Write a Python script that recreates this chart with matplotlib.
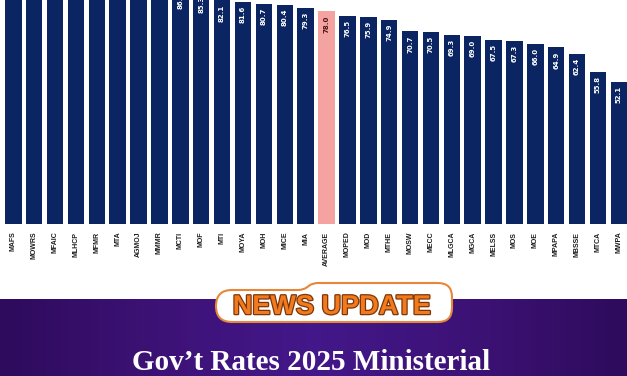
import matplotlib
matplotlib.use("Agg")
import matplotlib.pyplot as plt
import matplotlib.patheffects as pe
from matplotlib.path import Path
from matplotlib.patches import PathPatch
from matplotlib import transforms
from matplotlib.colors import LinearSegmentedColormap
import numpy as np

# ministries, sorted by score (the first few are cut off at the top of the picture)
ministries = [
    "MAFS", "MOWRS", "MFAIC", "MLHCP", "MFMR", "MTA", "AGMOJ", "MMMR",
    "MCTI", "MOF", "MTI", "MOYA", "MOH", "MICE", "MIA", "AVERAGE",
    "MOPED", "MOD", "MTHE", "MOSW", "MECC", "MLGCA", "MGCA", "MELSS",
    "MOS", "MOE", "MPAPA", "MBSSE", "MTCA", "MWPA",
]
scores = [
    98.1, 96.5, 95.2, 93.9, 92.8, 91.7, 90.6, 89.6,
    86.5, 85.3, 82.1, 81.6, 80.7, 80.4, 79.3, 78.0,
    76.5, 75.9, 74.9, 70.7, 70.5, 69.3, 69.0, 67.5,
    67.3, 66.0, 64.9, 62.4, 55.8, 52.1,
]
highlight = "AVERAGE"
title = "Gov\u2019t Rates 2025 Ministerial"
badge = "NEWS UPDATE"

NAVY = "#0b2563"
PINK = "#f4a3a0"
W, H = 627, 376
YTOP = 82.2  # the source image is cropped at about this value

fig = plt.figure(figsize=(W / 100, H / 100), dpi=100)
fig.patch.set_facecolor("white")

# bar chart (cropped at the top like the source image)
ax = fig.add_axes([0, 152 / H, 1, 224 / H])
x = np.arange(len(ministries))
colors = [PINK if m == highlight else NAVY for m in ministries]
ax.bar(x, scores, width=0.79, color=colors, zorder=2)
ax.set_xlim(-0.637, 29.39)
ax.set_ylim(0, YTOP)
ax.set_xticks(x, ministries, rotation=90, fontsize=5, fontweight="bold",
              family="Liberation Sans", color="#1e1e1e")
ax.tick_params(axis="x", length=0, pad=5.5)
ax.set_yticks([])
for s in ax.spines.values():
    s.set_visible(False)

offset = transforms.offset_copy(ax.transData, fig=fig, x=0, y=-4, units="dots")
for i, (m, v) in enumerate(zip(ministries, scores)):
    if v > YTOP + 5.5:
        continue  # label sits entirely above the crop
    ax.text(i, v, f"{v:.1f}", transform=offset, rotation=90, ha="center",
            va="top", fontsize=5, fontweight="bold", family="DejaVu Sans",
            color="#4a1515" if m == highlight else "white", clip_on=True, zorder=3)

# banner overlay in pixel coordinates
ov = fig.add_axes([0, 0, 1, 1], zorder=5)
ov.axis("off")
cmap = LinearSegmentedColormap.from_list(
    "banner", ["#2e0b5c", "#3d1276", "#44178a", "#3d1276", "#2e0b5c"])
grad = np.linspace(0, 1, 256)[None, :]
ov.imshow(grad, cmap=cmap, extent=(0, W, H, 299), aspect="auto", zorder=1)

verts = [
    (232, 290), (298, 290),
    (304, 290), (308, 286.5),
    (312, 283), (318, 283),
    (438, 283),
    (452, 283), (452, 297),
    (452, 308),
    (452, 322), (438, 322),
    (232, 322),
    (216, 322), (216, 306),
    (216, 290), (232, 290),
    (232, 290),
]
codes = [Path.MOVETO, Path.LINETO,
         Path.CURVE3, Path.CURVE3,
         Path.CURVE3, Path.CURVE3,
         Path.LINETO,
         Path.CURVE3, Path.CURVE3,
         Path.LINETO,
         Path.CURVE3, Path.CURVE3,
         Path.LINETO,
         Path.CURVE3, Path.CURVE3,
         Path.CURVE3, Path.CURVE3,
         Path.CLOSEPOLY]
ov.add_patch(PathPatch(Path(verts, codes), facecolor="white",
                       edgecolor="#e8873a", linewidth=1.5, zorder=2))

ov.text(332, 314, badge, ha="center", va="baseline", fontsize=19.5,
        fontweight="bold", family="Liberation Sans", color="#f07b1e", zorder=3,
        path_effects=[pe.withStroke(linewidth=1.8, foreground="#7e3408")])
ov.text(311.5, 370, title, ha="center", va="baseline", fontsize=21,
        fontweight="bold", family="Liberation Serif", color="white", zorder=3)

ov.set_xlim(0, W)
ov.set_ylim(H, 0)

fig.savefig("out.png", dpi=100)
